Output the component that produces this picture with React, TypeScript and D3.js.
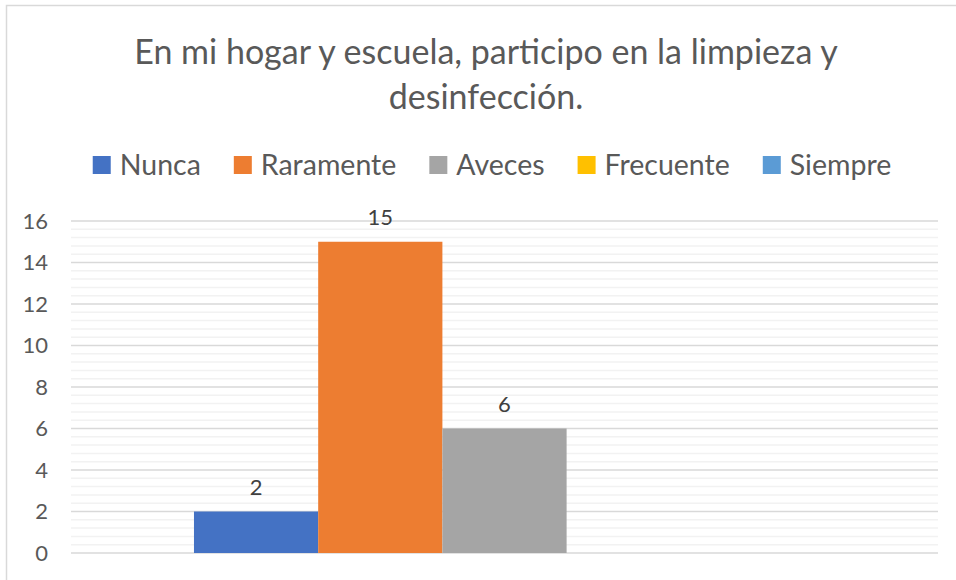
import React, { useEffect, useRef } from 'react';
import * as d3 from 'd3';

const title = ['En mi hogar y escuela, participo en la limpieza y', 'desinfección.'];
const category = ['Pregunta'];
const series = ['Nunca', 'Raramente', 'Aveces', 'Frecuente', 'Siempre'];
const values = [2, 15, 6, null, null];
const colors = ['#4472c4', '#ed7d31', '#a5a5a5', '#ffc000', '#5b9bd5'];
const yTicks = [0, 2, 4, 6, 8, 10, 12, 14, 16];

const FONT = 'Lato, "Open Sans", sans-serif';
const TEXT = '#595959';

const App: React.FC = () => {
  const svgRef = useRef<SVGSVGElement>(null);

  useEffect(() => {
    const svg = d3.select(svgRef.current);
    svg.selectAll('*').remove();

    const W = 956;
    const H = 580;
    const plot = { left: 71, right: 938, top: 221, bottom: 553 };

    svg.append('rect').attr('width', W).attr('height', H).attr('fill', '#fff');
    // chart frame (cut off at the right and bottom)
    svg.append('rect')
      .attr('x', 6.5).attr('y', 5.5).attr('width', W + 10).attr('height', H + 10)
      .attr('fill', 'none').attr('stroke', '#d9d9d9').attr('stroke-width', 1.5);

    // title
    svg.append('g').selectAll('text')
      .data(title)
      .enter().append('text')
      .attr('x', 486)
      .attr('y', (_, i) => 64 + i * 45)
      .attr('text-anchor', 'middle')
      .attr('font-family', FONT)
      .attr('font-size', 34)
      .attr('fill', TEXT)
      .text(d => d);

    // legend
    const legend = svg.append('g');
    const items = legend.selectAll('g')
      .data(series)
      .enter().append('g');
    items.append('rect')
      .attr('y', 156).attr('width', 18).attr('height', 18)
      .attr('fill', (_, i) => colors[i]);
    const labels = items.append('text')
      .attr('x', 27).attr('y', 175)
      .attr('font-family', FONT).attr('font-size', 28.5).attr('fill', TEXT)
      .text(d => d);
    const widths = labels.nodes().map(n => (n as SVGTextElement).getComputedTextLength());
    const itemW = widths.map(w => 18 + 9 + w + 33);
    const total = d3.sum(itemW) - 33;
    let lx = 492 - total / 2;
    items.each(function (_, i) {
      d3.select(this).attr('transform', `translate(${lx},0)`);
      lx += itemW[i];
    });

    const y = d3.scaleLinear().domain([0, 16]).range([plot.bottom, plot.top]);
    const x0 = d3.scaleBand().domain(category).range([plot.left, plot.right]).paddingOuter(0.198);
    const x1 = d3.scaleBand().domain(series).range([0, x0.bandwidth()]);

    // minor gridlines
    const minor = d3.range(0, 16.001, 0.4).filter(v => Math.abs(v / 2 - Math.round(v / 2)) > 0.01);
    svg.append('g').selectAll('line')
      .data(minor)
      .enter().append('line')
      .attr('x1', plot.left).attr('x2', plot.right)
      .attr('y1', d => y(d)).attr('y2', d => y(d))
      .attr('stroke', '#f2f2f2').attr('stroke-width', 1.5);

    // major gridlines
    svg.append('g').selectAll('line')
      .data(yTicks)
      .enter().append('line')
      .attr('x1', plot.left).attr('x2', plot.right)
      .attr('y1', d => y(d)).attr('y2', d => y(d))
      .attr('stroke', '#d9d9d9').attr('stroke-width', 1.5);

    // y axis labels
    const yAxis = svg.append('g')
      .attr('transform', `translate(${plot.left - 14},0)`)
      .call(d3.axisLeft(y).tickValues(yTicks).tickSize(0).tickPadding(9));
    yAxis.select('.domain').remove();
    yAxis.selectAll('text')
      .attr('font-family', FONT).attr('font-size', 22).attr('fill', TEXT);

    // bars
    const g = svg.append('g').attr('transform', `translate(${x0(category[0])},0)`);
    const data = series.map((s, i) => ({ s, v: values[i], c: colors[i] })).filter(d => d.v != null);
    g.selectAll('rect')
      .data(data)
      .enter().append('rect')
      .attr('x', d => x1(d.s)!)
      .attr('y', d => y(d.v as number))
      .attr('width', x1.bandwidth())
      .attr('height', d => y(0) - y(d.v as number))
      .attr('fill', d => d.c);

    g.selectAll('text.lbl')
      .data(data)
      .enter().append('text')
      .attr('class', 'lbl')
      .attr('x', d => x1(d.s)! + x1.bandwidth() / 2)
      .attr('y', d => y(d.v as number) - 17)
      .attr('text-anchor', 'middle')
      .attr('font-family', FONT).attr('font-size', 22).attr('fill', '#404040')
      .text(d => String(d.v));
  }, []);

  return (
    <svg ref={svgRef} width={956} height={580}
      style={{ position: 'absolute', left: 0, top: 0, display: 'block' }} />
  );
};

export default App;
